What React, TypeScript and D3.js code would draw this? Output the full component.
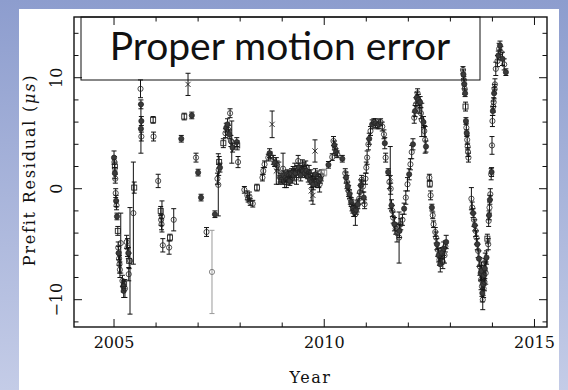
import React from 'react';
import * as d3 from 'd3';

type Obs = [number, number, number, string]; // year, residual (µs), error, marker

const obs2005: Obs[] = [
  [2005.00, 2.8, 0.6, 'f'], [2005.01, 2.4, 0.5, 'o'], [2005.02, 2.0, 0.4, 's'], [2005.02, 1.4, 0.5, 'f'],
  [2005.03, 0.9, 0.4, 'o'], [2005.04, -0.4, 0.4, 'o'], [2005.05, -1.1, 0.5, 'f'], [2005.06, -1.5, 0.4, 'o'],
  [2005.07, -2.5, 0.3, 'f'], [2005.09, -3.8, 0.4, 's'], [2005.10, -5.3, 0.5, 'o'], [2005.11, -5.8, 0.6, 'f'],
  [2005.12, -6.3, 0.6, 'o'], [2005.13, -6.8, 0.8, 'o'], [2005.14, -7.3, 0.7, 'o'], [2005.16, -4.9, 2.7, 'o'],
  [2005.20, -8.3, 0.5, 'o'], [2005.22, -8.8, 0.5, 'f'], [2005.23, -9.2, 0.6, 'f'], [2005.24, -8.6, 0.4, 's'],
  [2005.26, -9.0, 0.8, 'o'], [2005.30, -4.8, 0.6, 'o'], [2005.32, -5.3, 0.8, 'o'], [2005.34, -5.8, 0.5, 'f'],
  [2005.35, -7.7, 0.6, 'o'], [2005.36, -6.5, 0.7, 's'], [2005.38, -6.5, 4.8, 'o'], [2005.46, -2.2, 4.6, 'o'],
  [2005.48, 0.1, 0.5, 's'], [2005.63, 9.0, 0.8, 'o'], [2005.64, 7.6, 0.4, 'f'], [2005.65, 6.1, 0.4, 'f'],
  [2005.64, 5.4, 2.2, 'f'], [2005.65, 4.7, 0.4, 'o'], [2005.93, 6.2, 0.3, 's'], [2005.94, 4.7, 0.4, 'o'],
];

const obs2006: Obs[] = [
  [2006.05, 0.7, 0.6, 'o'], [2006.11, -2.0, 0.4, 's'], [2006.12, -2.8, 0.5, 'o'], [2006.13, -3.2, 0.5, 'o'],
  [2006.14, -2.5, 1.4, 'o'], [2006.16, -5.1, 0.6, 'o'], [2006.33, -4.4, 0.3, 's'], [2006.31, -5.3, 0.6, 'o'],
  [2006.42, -2.8, 1.0, 'o'], [2006.60, 4.5, 0.3, 'f'], [2006.67, 6.5, 0.3, 's'], [2006.76, 9.4, 1.0, 'x'],
  [2006.85, 6.6, 0.3, 'f'], [2006.95, 2.8, 0.4, 'o'],
];

const obs2007: Obs[] = [
  [2007.00, 1.45, 0.3, 'f'], [2007.07, -0.8, 0.3, 'f'], [2007.20, -3.9, 0.4, 'o'], [2007.33, -7.5, 3.75, 'g'],
  [2007.40, -2.3, 0.3, 'f'], [2007.46, 0.9, 0.5, 'o'], [2007.48, 0.35, 2.8, 'o'], [2007.49, 1.7, 0.5, 'o'],
  [2007.50, 2.4, 0.5, 's'], [2007.52, 1.9, 0.4, 'f'], [2007.60, 4.1, 0.4, 's'], [2007.65, 5.0, 0.4, 'o'],
  [2007.67, 5.5, 0.4, 'f'], [2007.70, 5.8, 0.5, 'f'], [2007.72, 5.3, 0.4, 'o'], [2007.74, 4.9, 0.4, 'f'],
  [2007.76, 6.8, 0.4, 'o'], [2007.78, 4.3, 0.5, 'o'], [2007.80, 4.2, 1.9, 'o'], [2007.82, 3.7, 0.4, 'f'],
  [2007.92, 4.2, 0.4, 'f'], [2007.93, 3.9, 0.4, 's'], [2007.95, 2.4, 0.5, 'o'],
];

const obs2008: Obs[] = [
  [2008.10, -0.1, 0.3, 'o'], [2008.17, -0.6, 0.4, 'o'], [2008.19, -0.9, 0.3, 'o'], [2008.22, -0.7, 0.4, 'o'],
  [2008.24, -1.2, 0.3, 'o'], [2008.30, -1.35, 0.3, 'o'], [2008.40, 0.1, 0.3, 's'], [2008.53, 1.0, 0.3, 'o'],
  [2008.55, 1.6, 0.3, 'o'], [2008.58, 2.2, 0.3, 'o'], [2008.67, 2.8, 0.3, 'o'], [2008.70, 3.2, 0.4, 'f'],
  [2008.72, 3.0, 0.3, 'o'], [2008.76, 5.8, 1.2, 'x'], [2008.79, 2.6, 0.4, 'o'], [2008.82, 2.3, 0.3, 'f'],
  [2008.86, 1.6, 1.2, 'x'], [2008.88, 2.1, 0.4, 'o'], [2008.92, 1.4, 1.0, 'o'], [2008.95, 1.0, 0.4, 'f'],
  [2008.98, 0.8, 0.3, 'o'],
];

const obs2009: Obs[] = [
  [2009.02, 1.8, 1.4, 'o'], [2009.04, 1.2, 0.4, 'f'], [2009.06, 0.6, 0.5, 'o'], [2009.08, 1.0, 0.4, 'f'],
  [2009.10, 0.8, 0.7, 'o'], [2009.12, 1.3, 0.4, 'f'], [2009.14, 0.9, 0.5, 'o'], [2009.16, 1.2, 0.4, 'o'],
  [2009.18, 0.7, 0.4, 'f'], [2009.20, 1.1, 0.5, 'o'], [2009.22, 1.4, 0.4, 'f'], [2009.24, 1.0, 0.5, 'o'],
  [2009.26, 1.6, 0.4, 'o'], [2009.28, 1.2, 0.5, 'f'], [2009.30, 1.8, 0.5, 'o'], [2009.32, 1.4, 0.4, 'f'],
  [2009.34, 1.0, 0.6, 'o'], [2009.36, 1.7, 0.4, 'o'], [2009.38, 2.5, 0.5, 'o'], [2009.40, 1.9, 0.4, 'f'],
  [2009.42, 1.5, 0.5, 'o'], [2009.44, 1.2, 0.5, 'f'], [2009.46, 1.7, 0.4, 'o'], [2009.48, 2.1, 0.5, 'o'],
  [2009.50, 1.6, 0.4, 'f'], [2009.52, 1.9, 0.5, 'o'], [2009.54, 1.4, 0.4, 'f'], [2009.56, 2.0, 0.5, 'o'],
  [2009.58, 1.6, 0.5, 'f'], [2009.60, 1.3, 0.4, 'o'], [2009.62, 1.1, 0.5, 'f'], [2009.64, 1.5, 0.6, 'o'],
  [2009.66, 0.8, 0.4, 'f'], [2009.68, 1.2, 0.5, 'o'], [2009.69, -0.2, 0.9, 'x'], [2009.70, 0.6, 0.5, 'f'],
  [2009.72, 1.0, 0.4, 'o'], [2009.73, -0.6, 0.8, 'x'], [2009.74, 0.4, 0.5, 'f'], [2009.76, 0.8, 0.6, 'o'],
  [2009.78, 3.4, 1.0, 'x'], [2009.79, 1.3, 0.5, 'f'], [2009.81, 0.9, 0.5, 'o'], [2009.83, 0.5, 0.4, 'f'],
  [2009.85, 1.1, 0.5, 'o'], [2009.87, 0.7, 0.6, 'f'], [2009.89, 0.4, 0.7, 'o'], [2009.91, 0.9, 0.4, 'f'],
  [2009.93, 1.2, 0.5, 'o'],
];

const obs2010: Obs[] = [
  [2010.00, 1.45, 0.3, 'q'], [2010.10, 2.15, 0.3, 'f'], [2010.19, 2.85, 0.3, 'o'], [2010.22, 4.3, 0.4, 'o'],
  [2010.24, 3.9, 0.4, 'f'], [2010.26, 3.6, 0.4, 'o'], [2010.28, 3.3, 0.3, 'f'], [2010.31, 3.1, 0.3, 'o'],
  [2010.43, 2.7, 0.3, 'f'], [2010.50, 1.4, 0.4, 'o'], [2010.52, 1.0, 0.5, 'f'], [2010.54, 0.6, 0.6, 'o'],
  [2010.56, 0.2, 0.4, 'f'], [2010.58, -0.2, 0.5, 'o'], [2010.60, -0.5, 0.4, 'f'], [2010.62, -0.9, 0.5, 'o'],
  [2010.64, -1.2, 0.4, 'f'], [2010.66, -1.5, 0.5, 'o'], [2010.68, -1.8, 0.4, 'f'], [2010.70, -2.0, 0.5, 'o'],
  [2010.72, -2.1, 0.4, 'f'], [2010.74, -2.3, 1.0, 'o'], [2010.76, -1.9, 0.4, 'f'], [2010.78, -1.6, 0.5, 'o'],
  [2010.80, -1.4, 0.4, 'f'], [2010.83, -0.9, 0.5, 'o'], [2010.85, -0.3, 0.6, 'o'], [2010.87, 0.3, 0.5, 'f'],
  [2010.89, 0.8, 0.4, 'o'], [2010.92, 0.2, 0.5, 'o'], [2010.94, -0.8, 0.5, 'f'], [2010.96, -1.4, 0.4, 'o'],
  [2010.98, 0.9, 0.5, 'o'],
];

const obs2011: Obs[] = [
  [2011.00, 1.9, 0.5, 'o'], [2011.02, 2.8, 0.6, 'o'], [2011.05, 4.0, 0.5, 'o'], [2011.07, 4.5, 0.5, 'f'],
  [2011.10, 5.2, 0.4, 'o'], [2011.14, 5.8, 0.4, 'f'], [2011.18, 6.0, 0.3, 'o'], [2011.22, 5.9, 0.4, 'f'],
  [2011.26, 5.7, 0.3, 'o'], [2011.30, 5.8, 0.4, 'f'], [2011.34, 6.0, 0.3, 'o'], [2011.38, 5.6, 0.4, 'o'],
  [2011.42, 4.9, 0.4, 'o'], [2011.44, 4.1, 0.5, 'f'], [2011.46, 2.8, 0.4, 'o'], [2011.52, 1.5, 0.3, 'f'],
  [2011.55, 0.6, 0.6, 'o'], [2011.57, 1.0, 2.8, 'x'], [2011.58, 0.0, 0.5, 'o'], [2011.60, -1.5, 0.5, 'f'],
  [2011.62, -2.0, 0.5, 'o'], [2011.64, -2.6, 0.5, 'o'], [2011.67, -3.2, 0.6, 'f'], [2011.70, -3.6, 0.5, 'o'],
  [2011.73, -4.0, 0.8, 'o'], [2011.78, -4.4, 2.3, 'o'], [2011.79, -3.8, 0.6, 'f'], [2011.82, -3.2, 0.5, 'o'],
  [2011.86, -2.8, 0.5, 'o'], [2011.90, -1.8, 0.5, 'f'], [2011.94, -0.8, 0.6, 'o'], [2011.98, 0.4, 0.6, 'o'],
];

const obs2012: Obs[] = [
  [2012.02, 1.3, 0.5, 'f'], [2012.05, 2.2, 0.5, 'o'], [2012.08, 3.3, 0.6, 'o'], [2012.11, 4.0, 0.5, 'f'],
  [2012.14, 6.4, 0.5, 'o'], [2012.16, 7.0, 0.5, 'f'], [2012.18, 7.6, 0.6, 'o'], [2012.20, 8.2, 0.5, 'f'],
  [2012.22, 8.6, 0.4, 'o'], [2012.24, 8.0, 0.5, 'f'], [2012.26, 7.4, 0.6, 'o'], [2012.28, 7.8, 0.5, 'f'],
  [2012.30, 6.8, 0.5, 'o'], [2012.32, 6.2, 1.5, 'o'], [2012.36, 6.0, 0.5, 'f'], [2012.38, 5.2, 0.5, 'o'],
  [2012.40, 4.4, 1.2, 'o'], [2012.42, 3.8, 0.5, 'f'], [2012.50, 1.0, 0.3, 'o'], [2012.51, 0.45, 0.3, 's'],
  [2012.53, -0.6, 0.4, 'o'], [2012.56, -1.7, 0.3, 'f'], [2012.58, -2.4, 0.3, 'o'], [2012.60, -3.2, 0.3, 'o'],
  [2012.64, -3.9, 0.4, 'o'], [2012.66, -4.4, 0.5, 'o'], [2012.68, -5.0, 0.5, 'f'], [2012.70, -5.5, 0.6, 'o'],
  [2012.72, -6.0, 0.6, 'f'], [2012.74, -6.4, 0.5, 'o'], [2012.76, -6.8, 0.7, 'f'], [2012.78, -6.2, 0.6, 'o'],
  [2012.80, -5.8, 0.5, 'f'], [2012.82, -6.6, 0.6, 'o'], [2012.84, -5.4, 0.6, 'f'], [2012.86, -6.0, 0.7, 'o'],
  [2012.88, -5.2, 0.5, 'o'], [2012.90, -4.8, 0.6, 'f'],
];

const obs2013: Obs[] = [
  [2013.30, 10.7, 0.3, 'o'], [2013.31, 10.3, 0.4, 'f'], [2013.32, 9.8, 0.3, 'o'], [2013.33, 9.4, 0.4, 'f'],
  [2013.34, 9.0, 0.5, 'o'], [2013.35, 8.6, 0.3, 'f'], [2013.36, 7.4, 0.4, 's'], [2013.37, 6.1, 0.3, 'f'],
  [2013.38, 5.5, 0.4, 'o'], [2013.39, 5.0, 0.3, 'f'], [2013.40, 4.4, 0.4, 'o'], [2013.41, 3.8, 0.3, 'o'],
  [2013.42, 3.3, 0.4, 'o'], [2013.43, 2.8, 0.4, 'o'], [2013.50, -0.9, 1.0, 'o'], [2013.52, -1.7, 0.5, 'o'],
  [2013.54, -2.2, 0.4, 'f'], [2013.56, -2.8, 0.6, 'o'], [2013.58, -3.3, 0.5, 'f'], [2013.60, -3.8, 0.5, 'o'],
  [2013.62, -4.4, 0.6, 'o'], [2013.64, -5.0, 0.5, 'f'], [2013.66, -5.6, 0.6, 'o'], [2013.68, -6.3, 0.7, 'f'],
  [2013.70, -7.0, 0.8, 'o'], [2013.72, -7.6, 0.7, 'f'], [2013.73, -8.2, 0.9, 'o'], [2013.74, -7.4, 0.8, 'f'],
  [2013.75, -8.8, 0.9, 'o'], [2013.76, -9.4, 0.8, 'f'], [2013.77, -10.0, 0.9, 'o'], [2013.78, -8.6, 1.0, 'f'],
  [2013.79, -9.0, 0.8, 'o'], [2013.80, -7.8, 0.9, 'f'], [2013.81, -8.4, 0.8, 'o'], [2013.82, -7.2, 0.9, 'f'],
  [2013.83, -6.6, 0.8, 'o'], [2013.84, -7.6, 1.0, 'o'], [2013.86, -6.2, 0.6, 'f'], [2013.88, -4.5, 0.4, 's'],
  [2013.90, -5.0, 0.5, 'o'], [2013.91, -2.9, 0.5, 'o'], [2013.92, -2.4, 0.4, 'f'], [2013.93, -1.7, 0.5, 'o'],
  [2013.94, -1.0, 0.4, 'f'], [2013.95, -0.5, 0.5, 'o'], [2013.97, 1.3, 0.5, 'o'], [2013.98, 1.5, 0.4, 'f'],
  [2013.99, 3.9, 0.8, 'o'],
];

const obs2014: Obs[] = [
  [2014.00, 6.1, 0.5, 'o'], [2014.01, 7.0, 0.4, 'f'], [2014.02, 7.4, 0.5, 'o'], [2014.03, 7.8, 0.4, 'o'],
  [2014.04, 8.6, 0.5, 'f'], [2014.05, 9.0, 0.4, 'o'], [2014.06, 9.4, 0.5, 'o'], [2014.08, 10.8, 0.6, 'o'],
  [2014.12, 11.5, 0.5, 'o'], [2014.14, 12.0, 0.4, 'f'], [2014.16, 12.6, 0.5, 'o'], [2014.18, 12.9, 0.4, 'f'],
  [2014.20, 12.3, 0.5, 'o'], [2014.24, 11.7, 0.6, 'f'], [2014.28, 11.2, 0.5, 'o'], [2014.32, 10.5, 0.3, 'f'],
];

const xMajorTicks = [2005, 2010, 2015];
const xMinorTicks = [2005, 2006, 2007, 2008, 2009, 2010, 2011, 2012, 2013, 2014, 2015];
const yMajorTicks = [-10, 0, 10];
const yMinorTicks = [-12, -10, -8, -6, -4, -2, 0, 2, 4, 6, 8, 10, 12, 14];
const titleText = 'Proper motion error';
const xLabel = 'Year';

const W = 568, H = 390;
const plot = { left: 74, right: 547, top: 17, bottom: 327 };

export default function App() {
  const all: Obs[] = [
    ...obs2005, ...obs2006, ...obs2007, ...obs2008, ...obs2009,
    ...obs2010, ...obs2011, ...obs2012, ...obs2013, ...obs2014,
  ];
  const x = d3.scaleLinear().domain([2004.048, 2015.298]).range([plot.left, plot.right]);
  const y = d3.scaleLinear().domain([15.47, -12.46]).range([plot.top, plot.bottom]);
  const serif = "'DejaVu Serif', serif";
  const ink = '#111';

  const marker = (d: Obs, i: number) => {
    const cx = x(d[0]), cy = y(d[1]);
    const m = d[3];
    const r = 2.6;
    if (m === 'f') return <circle key={'m' + i} cx={cx} cy={cy} r={r} fill="#3a3a3a" stroke="#222" strokeWidth={0.7} />;
    if (m === 'o') return (
      <g key={'m' + i}>
        <circle cx={cx} cy={cy} r={r} fill="none" stroke="#222" strokeWidth={0.8} />
        <circle cx={cx} cy={cy} r={0.6} fill="#222" />
      </g>
    );
    if (m === 'g') return <circle key={'m' + i} cx={cx} cy={cy} r={r} fill="none" stroke="#777" strokeWidth={0.9} />;
    if (m === 's' || m === 'q') {
      const c = m === 'q' ? '#888' : '#222';
      return <rect key={'m' + i} x={cx - 2.5} y={cy - 2.5} width={5} height={5} fill="none" stroke={c} strokeWidth={0.9} />;
    }
    if (m === 'x') return (
      <path key={'m' + i} d={`M${cx - 2.6},${cy - 2.6}L${cx + 2.6},${cy + 2.6}M${cx - 2.6},${cy + 2.6}L${cx + 2.6},${cy - 2.6}`} stroke="#222" strokeWidth={0.9} />
    );
    return null;
  };

  const errBar = (d: Obs, i: number) => {
    const cx = x(d[0]);
    const y1 = y(d[1] + d[2]), y2 = y(d[1] - d[2]);
    const c = d[3] === 'g' ? '#9a9a9a' : d[3] === 'q' ? '#888' : ink;
    const cap = 2.5;
    return (
      <path key={'e' + i}
        d={`M${cx},${y1}L${cx},${y2}M${cx - cap},${y1}L${cx + cap},${y1}M${cx - cap},${y2}L${cx + cap},${y2}`}
        stroke={c} strokeWidth={1} fill="none" />
    );
  };

  return (
    <svg width={W} height={H} style={{ position: 'absolute', left: 0, top: 0 }}>
      <defs>
        <linearGradient id="bg" x1="0" y1="0" x2="0" y2="1">
          <stop offset="0" stopColor="#8d9dce" />
          <stop offset="1" stopColor="#c4cce7" />
        </linearGradient>
      </defs>
      <rect x={0} y={0} width={W} height={H} fill="url(#bg)" />
      <rect x={19} y={9} width={540} height={H - 9} fill="#fff" />

      {/* title box */}
      <rect x={81} y={plot.top} width={399} height={63} fill="#fff" stroke={ink} strokeWidth={1} />

      {/* data */}
      <g>{all.map(errBar)}</g>
      <g>{all.map(marker)}</g>

      {/* frame */}
      <rect x={plot.left} y={plot.top} width={plot.right - plot.left} height={plot.bottom - plot.top}
        fill="none" stroke={ink} strokeWidth={1.4} />

      {/* x ticks */}
      {xMinorTicks.map((t) => {
        const major = xMajorTicks.includes(t);
        const len = major ? 8 : 4.5;
        return (
          <g key={'xt' + t}>
            <line x1={x(t)} x2={x(t)} y1={plot.bottom} y2={plot.bottom - len} stroke={ink} strokeWidth={1} />
            <line x1={x(t)} x2={x(t)} y1={plot.top} y2={plot.top + len} stroke={ink} strokeWidth={1} />
          </g>
        );
      })}
      {/* y ticks */}
      {yMinorTicks.map((t) => {
        const major = yMajorTicks.includes(t);
        const len = major ? 8 : 4.5;
        return (
          <g key={'yt' + t}>
            <line x1={plot.left} x2={plot.left + len} y1={y(t)} y2={y(t)} stroke={ink} strokeWidth={1} />
            <line x1={plot.right} x2={plot.right - len} y1={y(t)} y2={y(t)} stroke={ink} strokeWidth={1} />
          </g>
        );
      })}

      {/* tick labels */}
      {xMajorTicks.map((t) => (
        <text key={'xl' + t} x={x(t)} y={348} textAnchor="middle" fontFamily={serif} fontSize={16} fill={ink}>{t}</text>
      ))}
      {yMajorTicks.map((t) => (
        <text key={'yl' + t} transform={`translate(62,${y(t)}) rotate(-90)`} textAnchor="middle"
          fontFamily={serif} fontSize={16} fill={ink}>{t < 0 ? '\u2212' + Math.abs(t) : String(t)}</text>
      ))}

      {/* axis titles */}
      <text x={(plot.left + plot.right) / 2} y={383} textAnchor="middle" fontFamily={serif} fontSize={16}
        letterSpacing={1.5} fill={ink}>{xLabel}</text>
      <text transform={`translate(35,170) rotate(-90)`} textAnchor="middle" fontFamily={serif} fontSize={16}
        letterSpacing={1.8} fill={ink}>
        Prefit Residual (<tspan fontStyle="italic">μs</tspan>)
      </text>

      {/* title */}
      <text x={280} y={60} textAnchor="middle" fontFamily="Lato, 'Open Sans', sans-serif" fontSize={39} fill={ink}>
        {titleText}
      </text>
    </svg>
  );
}
